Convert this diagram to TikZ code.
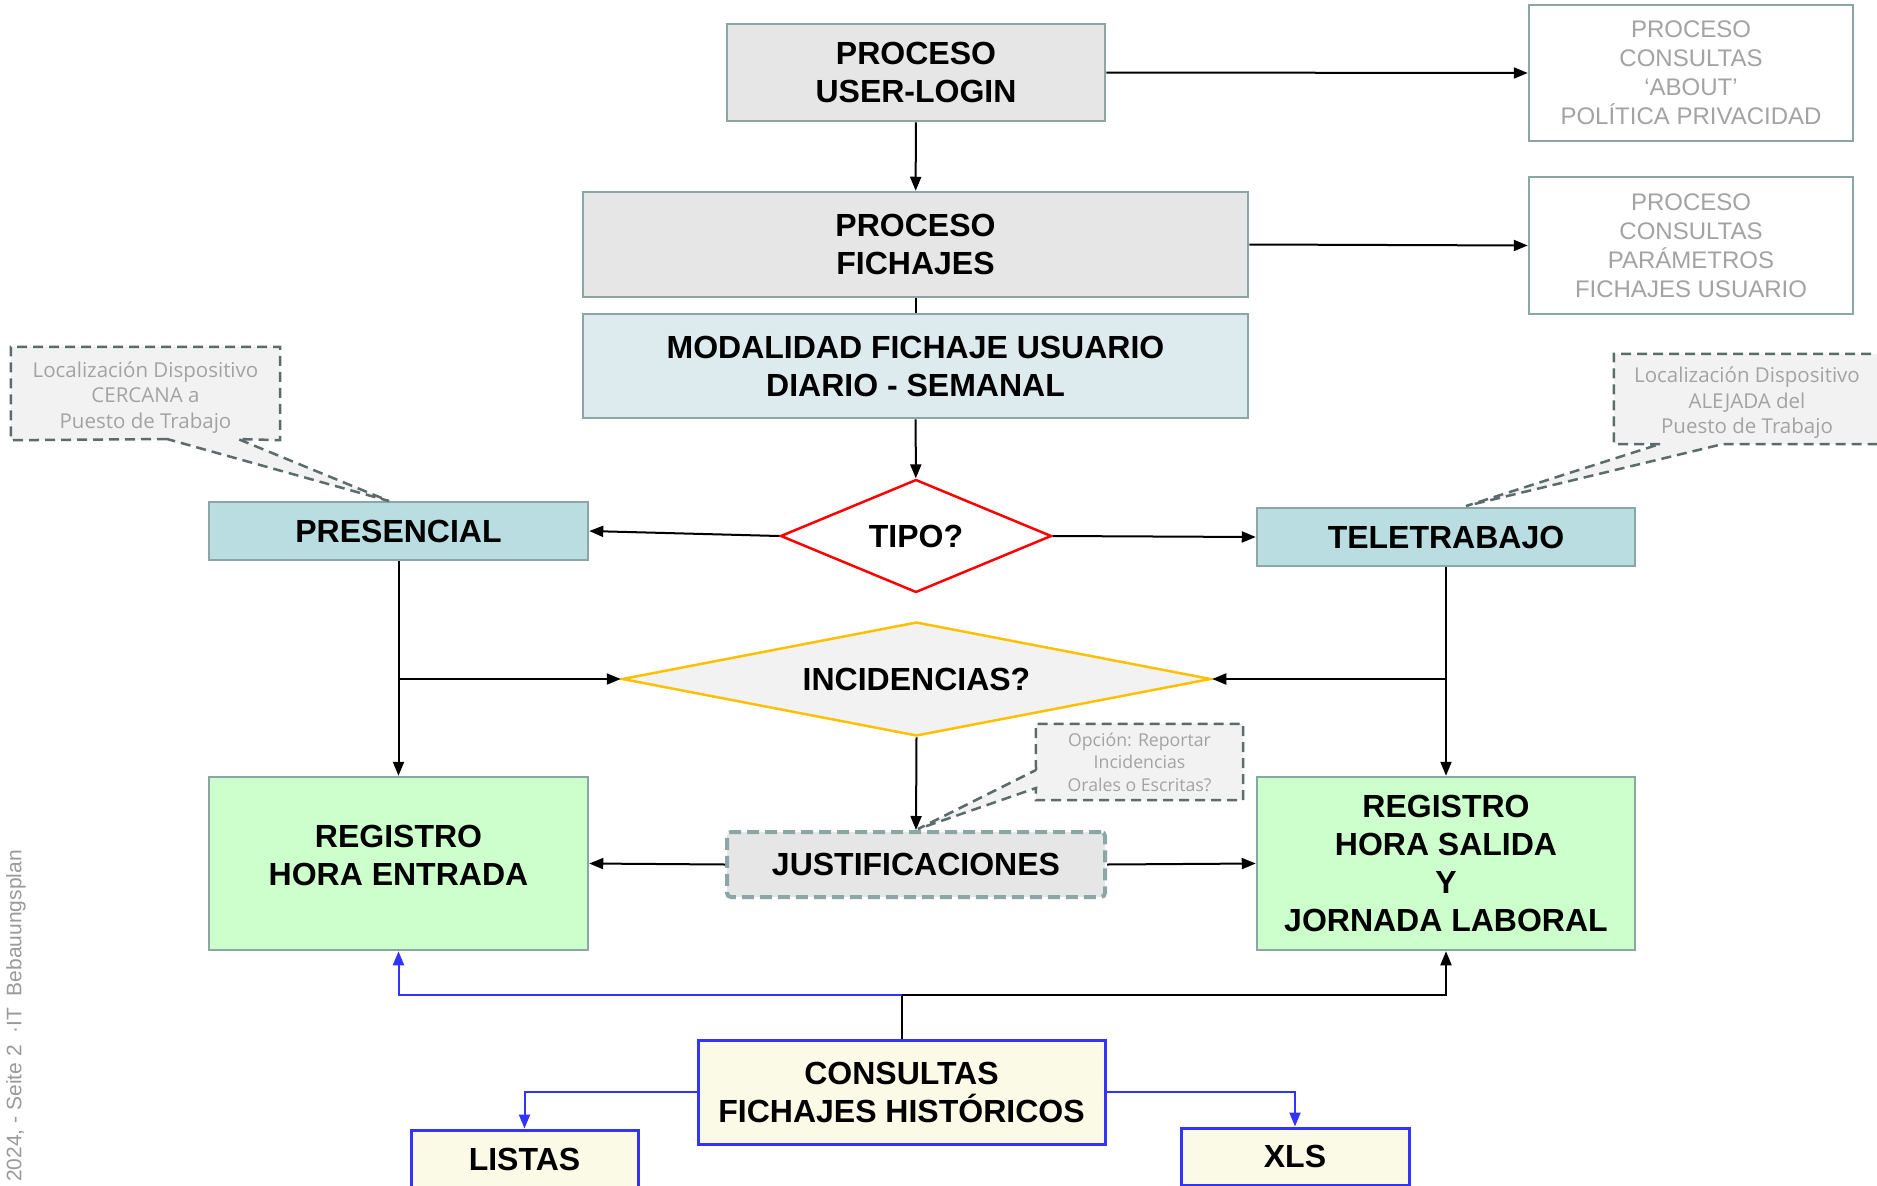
\documentclass[tikz,border=0pt]{standalone}
\usepackage{fontspec}
\setmainfont{Liberation Sans}
\newfontfamily\notefont{Open Sans}
\usetikzlibrary{shapes.geometric,arrows.meta}
\definecolor{boxgray}{HTML}{E6E6E6}
\definecolor{boxline}{HTML}{8CA6A6}
\definecolor{modalblue}{HTML}{DDEBEF}
\definecolor{modoblue}{HTML}{B9DDE0}
\definecolor{regigreen}{HTML}{CCFFCC}
\definecolor{consyellow}{HTML}{FAFAE6}
\definecolor{consblue}{HTML}{3333FF}
\definecolor{tipored}{HTML}{FF0000}
\definecolor{incidgold}{HTML}{FFC000}
\definecolor{notegray}{HTML}{F2F2F2}
\definecolor{noteline}{HTML}{5C6B6B}
\definecolor{notetext}{HTML}{A3A3A3}
\definecolor{sidegray}{HTML}{9A9A9A}

\tikzset{
  box/.style={draw=boxline, line width=2.5pt, align=center, inner sep=0pt,
    font=\fontsize{32}{38}\selectfont\bfseries},
  graybox/.style={box, fill=boxgray},
  modobox/.style={box, fill=modoblue},
  regibox/.style={box, fill=regigreen},
  consbox/.style={box, draw=consblue, line width=3pt, fill=consyellow},
  otherbox/.style={draw=boxline, line width=2.5pt, fill=white, align=center,
    text=notetext, font=\fontsize{24}{29}\selectfont},
  decision/.style={diamond, line width=2.5pt, inner sep=0pt,
    font=\fontsize{32}{38}\selectfont\bfseries},
  note/.style={fill=notegray, align=center, inner sep=0pt, text=notetext,
    font=\notefont\fontsize{20.5}{25.5}\selectfont},
  noteedge/.style={draw=noteline, line width=2.5pt, dash pattern=on 10pt off 6pt},
  arr/.style={line width=2pt, -{Triangle[length=14pt,width=11pt]}},
  bluearr/.style={arr, draw=consblue}
}

\begin{document}
\begin{tikzpicture}[x=1pt, y=-1pt]
  \useasboundingbox[fill=white] (0,0) rectangle (1877,1186);

  % top processes
  \node[graybox, minimum width=378pt, minimum height=97pt] (login) at (916,72.5) {PROCESO\\USER-LOGIN};
  \node[graybox, minimum width=665pt, minimum height=105pt] (fich) at (915.5,244.5) {PROCESO\\FICHAJES};
  \node[box, fill=modalblue, minimum width=665pt, minimum height=104pt] (modal) at (915.5,366) {MODALIDAD FICHAJE USUARIO\\DIARIO - SEMANAL};
  \node[otherbox, minimum width=324pt, minimum height=136pt] (about) at (1691,73) {PROCESO\\CONSULTAS\\`ABOUT'\\POLÍTICA PRIVACIDAD};
  \node[otherbox, minimum width=324pt, minimum height=137pt] (param) at (1691,245.5) {PROCESO\\CONSULTAS\\PARÁMETROS\\FICHAJES USUARIO};

  % modalidades
  \node[decision, draw=tipored, fill=white, shape aspect=2.4, minimum width=271pt, minimum height=113pt] (tipo) at (916,536) {TIPO?};
  \node[modobox, minimum width=379pt, minimum height=58pt] (presencial) at (398.5,531) {PRESENCIAL};
  \node[modobox, minimum width=378pt, minimum height=58pt] (tele) at (1446,537) {TELETRABAJO};
  \node[decision, draw=incidgold, fill=notegray, shape aspect=5.2, minimum width=589pt, minimum height=114pt] (incid) at (916.5,679) {INCIDENCIAS?};

  % registros
  \node[regibox, minimum width=379pt, minimum height=173pt, text depth=17pt] (entrada) at (398.5,863.5) {REGISTRO\\HORA ENTRADA};
  \node[regibox, minimum width=378pt, minimum height=173pt] (salida) at (1446,863.5) {REGISTRO\\HORA SALIDA\\Y\\JORNADA LABORAL};
  \node[graybox, line width=4pt, dash pattern=on 12pt off 6pt, rounded corners=4pt,
    minimum width=378pt, minimum height=65pt] (justif) at (916,864.5) {JUSTIFICACIONES};

  % consultas
  \node[consbox, minimum width=407pt, minimum height=104pt] (consultas) at (901.5,1092) {CONSULTAS\\FICHAJES HISTÓRICOS};
  \node[consbox, minimum width=227pt, minimum height=70pt, text depth=0pt] (listas) at (524.5,1165) {\raisebox{12pt}{LISTAS}};
  \node[consbox, minimum width=228pt, minimum height=57pt] (xls) at (1295,1156.5) {XLS};

  % notes
  \node[note, minimum width=269pt, minimum height=93pt, text height=74pt] (cercana) at (145.5,393.5) {Localización Dispositivo\\CERCANA a\\Puesto de Trabajo};
  \coordinate (cercana tip) at (389,501);
  \fill[notegray] (167,439) -- (cercana tip) -- (238,439) -- cycle;
  \draw[noteedge] (167,439) -- (cercana.south west) -- (cercana.north west) -- (cercana.north east)
    -- (cercana.south east) -- (238,439) -- (cercana tip) -- (167,439);

  \node[note, minimum width=266pt, minimum height=90pt, text height=74pt] (alejada) at (1747,399) {Localización Dispositivo\\ALEJADA del\\Puesto de Trabajo};
  \coordinate (alejada tip) at (1466,506);
  \fill[notegray] (1660,444) -- (alejada tip) -- (1723,444) -- cycle;
  \draw[noteedge] (1660,444) -- (alejada.south west) -- (alejada.north west) -- (alejada.north east)
    -- (alejada.south east) -- (1723,444) -- (alejada tip) -- (1660,444);

  \node[note, font=\notefont\fontsize{17.7}{22.5}\selectfont, minimum width=207pt, minimum height=76pt] (opcion) at (1139.5,762) {Opción: Reportar\\Incidencias\\Orales o Escritas?};
  \coordinate (opcion tip) at (918,829);
  \fill[notegray] (1036,770) -- (opcion tip) -- (1036,788) -- cycle;
  \draw[noteedge] (1036,770) -- (opcion.north west) -- (opcion.north east) -- (opcion.south east)
    -- (opcion.south west) -- (1036,788) -- (opcion tip) -- (1036,770);

  % connectors
  \draw[arr] (login) -- (fich);
  \draw[arr] (login.east) -- (about.west);
  \draw[arr] (fich.east) -- (param.west);
  \draw[line width=2pt] (fich) -- (modal);
  \draw[arr] (modal) -- (tipo);
  \draw[arr] (tipo.west) -- (presencial.east);
  \draw[arr] (tipo.east) -- (tele.west);
  \draw[arr] (presencial) -- (entrada);
  \draw[arr] (presencial.south |- incid.west) -- (incid.west);
  \draw[arr] (tele) -- (salida);
  \draw[arr] (tele.south |- incid.east) -- (incid.east);
  \draw[arr] (incid.south) -- (justif.north);
  \draw[arr] (justif.west) -- (entrada.east);
  \draw[arr] (justif.east) -- (salida.west);

  \coordinate (hub) at (901.5,995);
  \draw[line width=2pt] (consultas.north) -- (hub);
  \draw[bluearr] (hub) -| (entrada.south);
  \draw[arr] (hub) -| (salida.south);
  \draw[bluearr] (consultas.west) -| (listas.north);
  \draw[bluearr] (consultas.east) -| (xls.north);

  % footer
  \node[rotate=90, anchor=east, inner sep=0pt, text=sidegray, font=\fontsize{21}{24}\selectfont] (pie) at (16,850) {2024, - Seite 2\ \ ·IT\ \ Bebauungsplan};
\end{tikzpicture}
\end{document}
